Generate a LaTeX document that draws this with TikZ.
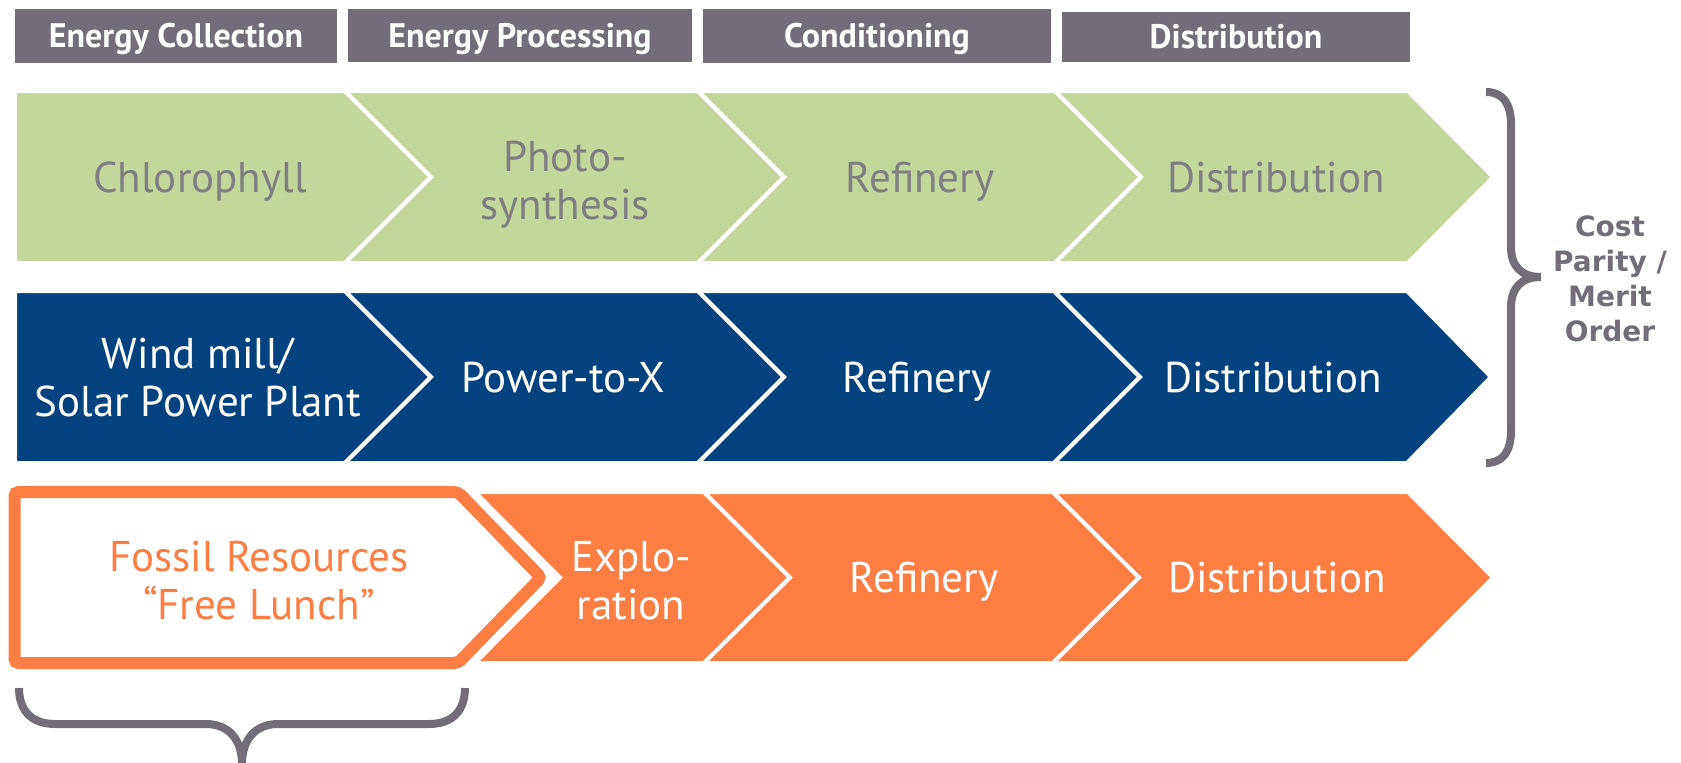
\documentclass[tikz,border=0pt]{standalone}
\usepackage{fontspec}
\setmainfont{PT Sans}
\newfontfamily\notefont{DejaVu Sans}

\definecolor{hdrgray}{RGB}{115,108,121}
\definecolor{lgreen}{RGB}{195,214,155}
\definecolor{dblue}{RGB}{2,66,127}
\definecolor{lorange}{RGB}{253,126,67}
\definecolor{greytext}{RGB}{127,127,127}

% one chevron segment: fill, left x, right x, top y, bottom y, left notch depth, tip depth
\newcommand\chevseg[7]{%
  \path[segsep, fill=#1] (#2,#4) -- (#3,#4) -- ({#3+#7},{(#4+#5)/2}) -- (#3,#5)
    -- (#2,#5) -- ({#2+#6},{(#4+#5)/2}) -- cycle;}

\begin{document}
\begin{tikzpicture}[x=0.5pt,y=-0.5pt,
  hdrbox/.style={fill=hdrgray, text=white, inner sep=0pt,
    text height=11.9pt, text depth=0pt,
    font=\bfseries\fontsize{17}{20}\selectfont},
  rowtext/.style={align=center, inner sep=0pt, font=\fontsize{21.5}{24}\selectfont},
  oneline/.style={rowtext, text height=15pt, text depth=0pt},
  segsep/.style={draw=white, line width=2pt, line join=miter},
  bracepath/.style={draw=hdrgray, line width=4pt, line cap=butt}]
\useasboundingbox (0,0) rectangle (1681,762);

% column headers
\node[hdrbox, minimum width=161pt, minimum height=27pt] (hcol) at (176,36) {Energy Collection};
\node[hdrbox, minimum width=172pt, minimum height=26.5pt] (hproc) at (520,35.5) {Energy Processing};
\node[hdrbox, minimum width=174pt, minimum height=27pt] (hcond) at (877,36) {Conditioning};
\node[hdrbox, minimum width=174pt, minimum height=25pt] (hdist) at (1236,37) {Distribution};

% biological chain
\chevseg{lgreen}{15}{345}{91}{263}{0}{86}
\chevseg{lgreen}{345}{698}{91}{263}{86}{86}
\chevseg{lgreen}{698}{1055}{91}{263}{86}{86}
\chevseg{lgreen}{1055}{1408}{91}{263}{86}{85}

% electricity based chain
\chevseg{dblue}{15}{345}{291}{463}{0}{86}
\chevseg{dblue}{345}{698}{291}{463}{86}{86}
\chevseg{dblue}{698}{1054}{291}{463}{86}{86}
\chevseg{dblue}{1054}{1407}{291}{463}{86}{84}

% fossil chain
\chevseg{lorange}{475}{704}{492}{663}{85}{86}
\chevseg{lorange}{704}{1053}{492}{663}{86}{86}
\chevseg{lorange}{1053}{1408}{492}{663}{86}{85}
\draw[lorange, line width=6pt, fill=white, rounded corners=2pt]
  (14.5,492) -- (458,492) -- (541,577.5) -- (458,663) -- (14.5,663) -- cycle;

% labels
\node[oneline, text=greytext] (chl) at (200,177) {Chlorophyll};
\node[rowtext, text=greytext] (pho) at (565,184.5) {Photo-\\synthesis};
\node[oneline, text=greytext] (gref) at (920,177) {Refinery};
\node[oneline, text=greytext] (gdis) at (1276,177) {Distribution};

\node[rowtext, text=white] (wind) at (198,377) {Wind mill/\\Solar Power Plant};
\node[oneline, text=white] (ptx) at (563,377) {Power-to-X};
\node[oneline, text=white] (bref) at (917,377) {Refinery};
\node[oneline, text=white] (bdis) at (1273,377) {Distribution};

\node[rowtext, text=lorange] (fos) at (259,581) {Fossil Resources\\“Free Lunch”};
\node[rowtext, text=white] (expl) at (631,581) {Explo-\\ration};
\node[oneline, text=white] (oref) at (924,577.5) {Refinery};
\node[oneline, text=white] (odis) at (1277,577.5) {Distribution};

% brace grouping the two upper chains
\path[bracepath] (1486,92) .. controls (1503,92) and (1511,104) .. (1511,124)
  -- (1511,247) .. controls (1511,266) and (1521,277) .. (1541,277)
  .. controls (1521,277) and (1511,288) .. (1511,308)
  -- (1511,431) .. controls (1511,451) and (1503,463) .. (1486,463);
\node[align=center, inner sep=0pt, text=hdrgray,
  font=\notefont\bfseries\fontsize{14}{17.5}\selectfont] (cost) at (1610,279)
  {Cost\\Parity /\\Merit\\Order};

% brace under the fossil resources
\path[bracepath] (19,688) .. controls (19,710) and (31,724) .. (55,724)
  -- (206,724) .. controls (229,724) and (242,740) .. (242,764)
  .. controls (242,740) and (255,724) .. (278,724)
  -- (429,724) .. controls (453,724) and (465,710) .. (465,688);
\end{tikzpicture}
\end{document}
